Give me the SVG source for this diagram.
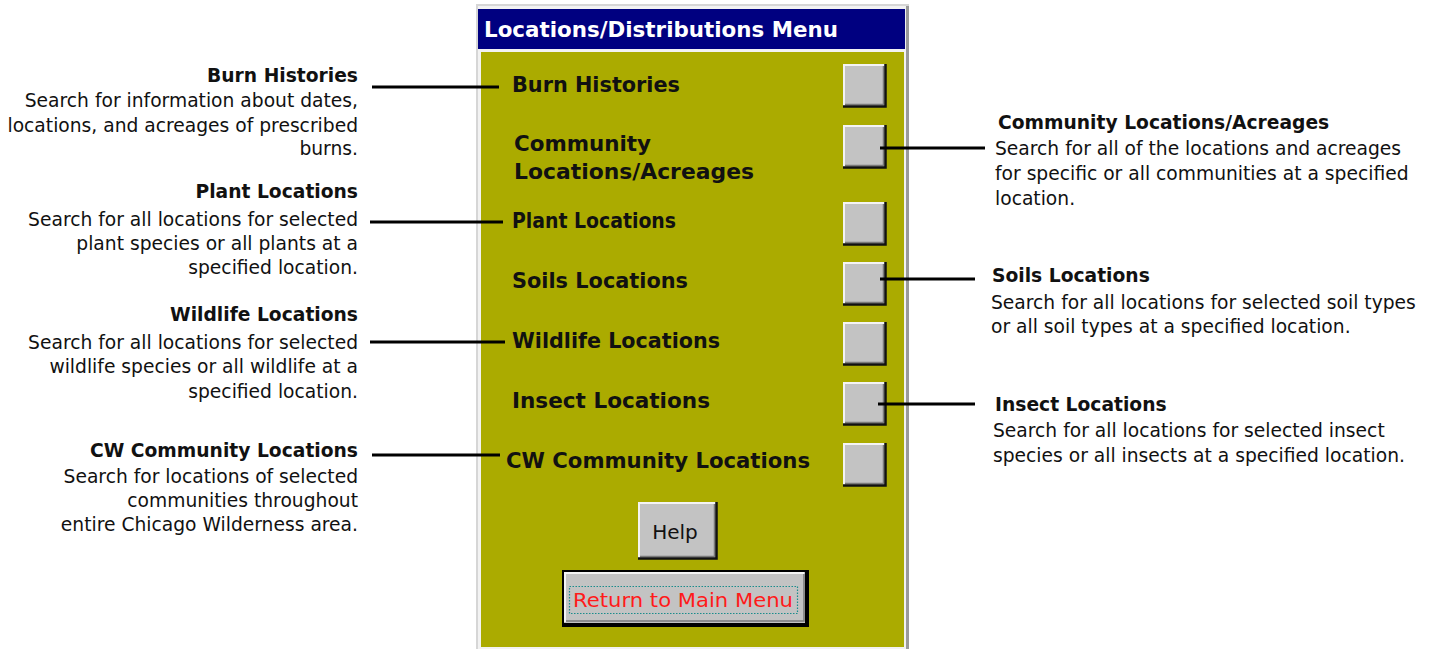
<svg xmlns="http://www.w3.org/2000/svg" width="1437" height="649" viewBox="0 0 1437 649">
  <style>
    .note-title { font-family: "DejaVu Sans", "Noto Sans", sans-serif; font-weight: bold; font-size: 18.7px; fill: #111; }
    .note-body { font-family: "DejaVu Sans", "Noto Sans", sans-serif; font-size: 18.7px; fill: #111; }
    .menu-label { font-family: "DejaVu Sans", "Noto Sans", sans-serif; font-weight: bold; font-size: 21px; fill: #111; }
    .menu-title { font-family: "DejaVu Sans", "Noto Sans", sans-serif; font-weight: bold; font-size: 21px; fill: #ffffff; }
    .btn-face { fill: #c3c3c3; }
    .btn-hi { stroke: #f4f4f4; stroke-width: 2; fill: none; }
    .btn-lo { stroke: #111; stroke-width: 2.5; fill: none; }
    .btn-mid { stroke: #7a7a7a; stroke-width: 1.5; fill: none; }
    .btn-text { font-family: "DejaVu Sans", "Noto Sans", sans-serif; font-size: 20px; }
    .leader { stroke: #000; stroke-width: 3; fill: none; }
  </style>
  <defs>
    <!-- raised square push-button, 43 x 43 -->
    <g id="sq-btn">
      <rect class="btn-face" x="0" y="0" width="43" height="43"/>
      <polyline class="btn-hi" points="1,42 1,1 42,1"/>
      <polyline class="btn-mid" points="2,40.5 40.5,40.5 40.5,2"/>
      <polyline class="btn-lo" points="0,42.5 42.5,42.5 42.5,0"/>
    </g>
  </defs>

  <rect x="0" y="0" width="1437" height="649" fill="#ffffff"/>

  <!-- dialog window -->
  <g id="menu-window">
    <rect x="476" y="4" width="433" height="645" fill="#d6d6d6"/>
    <rect x="478" y="6" width="429" height="643" fill="#f2f2f2"/>
    <rect x="906" y="6" width="3" height="643" fill="#9a9a9a"/>
    <rect x="478" y="9" width="427" height="40" fill="#000080"/>
    <text class="menu-title" x="484" y="37" textLength="354" lengthAdjust="spacingAndGlyphs">Locations/Distributions Menu</text>
    <rect x="481" y="52" width="423" height="595" fill="#abab00"/>
  </g>

  <g id="burn-histories">
    <text class="menu-label" x="512" y="92" textLength="168" lengthAdjust="spacingAndGlyphs">Burn Histories</text>
    <use href="#sq-btn" x="843" y="64"/>
  </g>
  <g id="community-locations">
    <text class="menu-label" x="514" y="151" textLength="137" lengthAdjust="spacingAndGlyphs">Community</text>
    <text class="menu-label" x="514" y="179" textLength="240" lengthAdjust="spacingAndGlyphs">Locations/Acreages</text>
    <use href="#sq-btn" x="843" y="125"/>
  </g>
  <g id="plant-locations">
    <text class="menu-label" x="512" y="228" textLength="164" lengthAdjust="spacingAndGlyphs">Plant Locations</text>
    <use href="#sq-btn" x="843" y="202"/>
  </g>
  <g id="soils-locations">
    <text class="menu-label" x="512" y="288" textLength="176" lengthAdjust="spacingAndGlyphs">Soils Locations</text>
    <use href="#sq-btn" x="843" y="262"/>
  </g>
  <g id="wildlife-locations">
    <text class="menu-label" x="512" y="348" textLength="208" lengthAdjust="spacingAndGlyphs">Wildlife Locations</text>
    <use href="#sq-btn" x="843" y="322"/>
  </g>
  <g id="insect-locations">
    <text class="menu-label" x="512" y="408" textLength="198" lengthAdjust="spacingAndGlyphs">Insect Locations</text>
    <use href="#sq-btn" x="843" y="382"/>
  </g>
  <g id="cw-community-locations">
    <text class="menu-label" x="506" y="468" textLength="304" lengthAdjust="spacingAndGlyphs">CW Community Locations</text>
    <use href="#sq-btn" x="843" y="443"/>
  </g>

  <g id="help-button">
    <rect class="btn-face" x="638" y="502" width="79" height="57"/>
    <polyline class="btn-hi" points="639,558 639,503 716,503"/>
    <polyline class="btn-mid" points="640,556.5 714.5,556.5 714.5,504"/>
    <polyline class="btn-lo" points="638,558.5 716.5,558.5 716.5,502"/>
    <text class="btn-text" x="675" y="539" text-anchor="middle" fill="#111">Help</text>
  </g>

  <g id="return-button">
    <rect x="562" y="570" width="247" height="57" fill="#000"/>
    <rect class="btn-face" x="564" y="572" width="241" height="51"/>
    <polyline class="btn-hi" points="565,622 565,573 804,573"/>
    <polyline class="btn-mid" points="566,621 804,621 804,574"/>
    <rect x="569.5" y="586.5" width="228" height="27" fill="none" stroke="#1a8c8c" stroke-width="1.2" stroke-dasharray="1.5,1.5"/>
    <text class="btn-text" x="573" y="607" fill="#ff1a1a" textLength="220" lengthAdjust="spacingAndGlyphs">Return to Main Menu</text>
  </g>

  <!-- callout descriptions, left column -->
  <g id="note-burn" text-anchor="end">
    <text class="note-title" x="358" y="82">Burn Histories</text>
    <text class="note-body" x="358" y="107">Search for information about dates,</text>
    <text class="note-body" x="358" y="132">locations, and acreages of prescribed</text>
    <text class="note-body" x="358" y="155">burns.</text>
  </g>
  <g id="note-plant" text-anchor="end">
    <text class="note-title" x="358" y="198">Plant Locations</text>
    <text class="note-body" x="358" y="226">Search for all locations for selected</text>
    <text class="note-body" x="358" y="250">plant species or all plants at a</text>
    <text class="note-body" x="358" y="274">specified location.</text>
  </g>
  <g id="note-wildlife" text-anchor="end">
    <text class="note-title" x="358" y="321">Wildlife Locations</text>
    <text class="note-body" x="358" y="349">Search for all locations for selected</text>
    <text class="note-body" x="358" y="373">wildlife species or all wildlife at a</text>
    <text class="note-body" x="358" y="398">specified location.</text>
  </g>
  <g id="note-cw" text-anchor="end">
    <text class="note-title" x="358" y="457">CW Community Locations</text>
    <text class="note-body" x="358" y="483">Search for locations of selected</text>
    <text class="note-body" x="358" y="507">communities throughout</text>
    <text class="note-body" x="358" y="531">entire Chicago Wilderness area.</text>
  </g>

  <!-- callout descriptions, right column -->
  <g id="note-community">
    <text class="note-title" x="998" y="129">Community Locations/Acreages</text>
    <text class="note-body" x="995" y="155">Search for all of the locations and acreages</text>
    <text class="note-body" x="995" y="180">for specific or all communities at a specified</text>
    <text class="note-body" x="995" y="205">location.</text>
  </g>
  <g id="note-soils">
    <text class="note-title" x="992" y="282">Soils Locations</text>
    <text class="note-body" x="991" y="309">Search for all locations for selected soil types</text>
    <text class="note-body" x="991" y="333">or all soil types at a specified location.</text>
  </g>
  <g id="note-insect">
    <text class="note-title" x="995" y="411">Insect Locations</text>
    <text class="note-body" x="993" y="437">Search for all locations for selected insect</text>
    <text class="note-body" x="993" y="462">species or all insects at a specified location.</text>
  </g>

  <!-- leader lines from descriptions to menu items -->
  <g id="connectors">
    <line class="leader" x1="372" y1="87" x2="499" y2="87"/>
    <line class="leader" x1="370" y1="222" x2="503" y2="222"/>
    <line class="leader" x1="370" y1="342" x2="505" y2="342"/>
    <line class="leader" x1="372" y1="455" x2="500" y2="455"/>
    <line class="leader" x1="880" y1="148" x2="985" y2="148"/>
    <line class="leader" x1="880" y1="279" x2="975" y2="279"/>
    <line class="leader" x1="878" y1="404" x2="975" y2="404"/>
  </g>
</svg>
